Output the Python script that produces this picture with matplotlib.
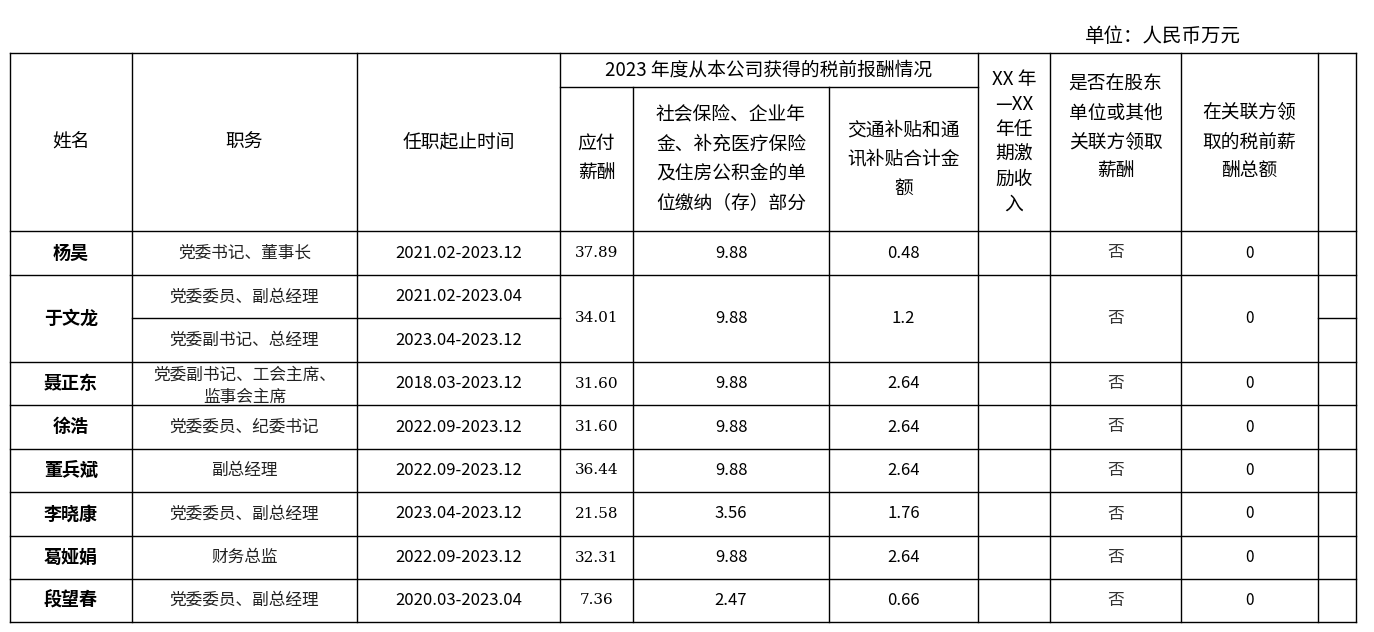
import matplotlib.pyplot as plt
from matplotlib.patches import Rectangle

plt.rcParams['font.family'] = ['Noto Sans CJK SC', 'DejaVu Sans']

names = ["杨昊", "于文龙", "聂正东", "徐浩", "董兵斌", "李晓康", "葛娅娟", "段望春"]
duties = [["党委书记、董事长"], ["党委委员、副总经理", "党委副书记、总经理"],
          ["党委副书记、工会主席、\n监事会主席"], ["党委委员、纪委书记"], ["副总经理"],
          ["党委委员、副总经理"], ["财务总监"], ["党委委员、副总经理"]]
terms = [["2021.02-2023.12"], ["2021.02-2023.04", "2023.04-2023.12"], ["2018.03-2023.12"],
         ["2022.09-2023.12"], ["2022.09-2023.12"], ["2023.04-2023.12"],
         ["2022.09-2023.12"], ["2020.03-2023.04"]]
pay = ["37.89", "34.01", "31.60", "31.60", "36.44", "21.58", "32.31", "7.36"]
insurance = ["9.88", "9.88", "9.88", "9.88", "9.88", "3.56", "9.88", "2.47"]
allowance = ["0.48", "1.2", "2.64", "2.64", "2.64", "1.76", "2.64", "0.66"]
shareholder = ["否"] * 8
related = ["0"] * 8

xs = [10, 132, 357, 560, 633, 829, 978, 1050, 1181, 1318, 1356]
row_edges = [231, 275, 362, 405, 449, 492, 536, 579, 622]
top, sub, head_bot = 53, 87, 231

fig = plt.figure(figsize=(13.74, 6.32), dpi=100)
ax = fig.add_axes([0, 0, 1, 1])
ax.set_xlim(0, 1374)
ax.set_ylim(632, 0)
ax.axis("off")

lw = 1.0
for x in xs:
    y0 = sub if x in (633, 829) else top
    ax.plot([x, x], [y0, 622], color="black", lw=lw)
ax.plot([10, 1356], [top, top], color="black", lw=lw)
ax.plot([560, 978], [sub, sub], color="black", lw=lw)
for y in row_edges:
    ax.plot([10, 1356], [y, y], color="black", lw=lw)
ax.plot([132, 560], [318, 318], color="black", lw=lw)
ax.plot([1318, 1356], [318, 318], color="black", lw=lw)

ax.text(1085, 37, "单位：人民币万元", fontsize=14, va="center", ha="left")

hs = 13.5
def cx(i):
    return (xs[i] + xs[i + 1]) / 2
ax.text(cx(0), 142, "姓名", fontsize=hs, ha="center", va="center")
ax.text(cx(1), 142, "职务", fontsize=hs, ha="center", va="center")
ax.text(cx(2), 142, "任职起止时间", fontsize=hs, ha="center", va="center")
ax.text((560 + 978) / 2, 70, "2023 年度从本公司获得的税前报酬情况", fontsize=hs, ha="center", va="center")
ax.text(cx(3), 159, "应付\n薪酬", fontsize=hs, ha="center", va="center", linespacing=1.5)
ax.text(cx(4), 159, "社会保险、企业年\n金、补充医疗保险\n及住房公积金的单\n位缴纳（存）部分",
        fontsize=hs, ha="center", va="center", linespacing=1.5)
ax.text(cx(5), 159, "交通补贴和通\n讯补贴合计金\n额", fontsize=hs, ha="center", va="center", linespacing=1.5)
ax.text(cx(6), 142, "XX 年\n—XX\n年任\n期激\n励收\n入", fontsize=hs, ha="center", va="center", linespacing=1.25)
ax.text(cx(7), 128, "是否在股东\n单位或其他\n关联方领取\n薪酬", fontsize=hs, ha="center", va="center", linespacing=1.5)
ax.text(cx(8), 142, "在关联方领\n取的税前薪\n酬总额", fontsize=hs, ha="center", va="center", linespacing=1.5)

ds = 12
for r in range(8):
    y0, y1 = row_edges[r], row_edges[r + 1]
    yc = (y0 + y1) / 2
    ax.text(cx(0), yc, names[r], fontsize=13, weight="bold", ha="center", va="center")
    n = len(duties[r])
    for k in range(n):
        sy0 = y0 + (y1 - y0) * k / n
        sy1 = y0 + (y1 - y0) * (k + 1) / n
        syc = (sy0 + sy1) / 2
        d = duties[r][k]
        if "\n" in d:
            t = ax.text(cx(1), sy0 + 5, d, fontsize=ds, ha="center", va="top",
                        linespacing=1.35, color="#222222")
            clip = Rectangle((xs[1], sy0), xs[2] - xs[1], sy1 - sy0, transform=ax.transData)
            t.set_clip_on(True)
            t.set_clip_path(clip)
        else:
            ax.text(cx(1), syc, d, fontsize=ds, ha="center", va="center", color="#222222")
        ax.text(cx(2), syc, terms[r][k], fontsize=ds, ha="center", va="center")
    ax.text(cx(3), yc, pay[r], fontsize=11, ha="center", va="center", family="DejaVu Serif")
    ax.text(cx(4), yc, insurance[r], fontsize=ds, ha="center", va="center")
    ax.text(cx(5), yc, allowance[r], fontsize=ds, ha="center", va="center")
    ax.text(cx(7), yc, shareholder[r], fontsize=ds, ha="center", va="center", color="#333333")
    ax.text(cx(8), yc, related[r], fontsize=11, ha="center", va="center")

fig.savefig("out.png", dpi=100)
